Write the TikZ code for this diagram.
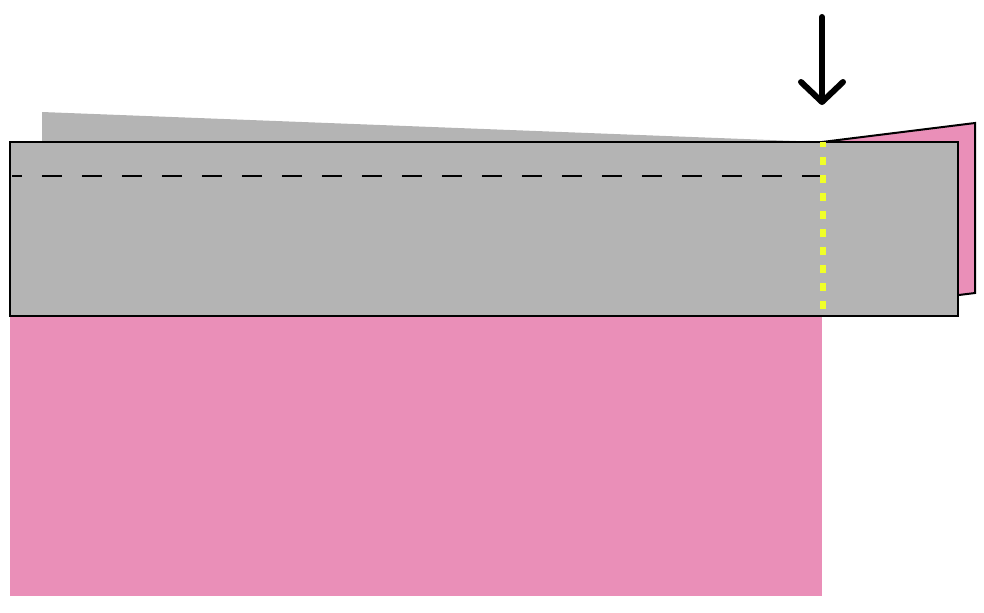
\documentclass[tikz,border=0pt]{standalone}
\usetikzlibrary{arrows.meta}
\definecolor{flapgray}{RGB}{180, 180, 180}
\definecolor{flappink}{RGB}{234, 143, 184}
\definecolor{foldyellow}{RGB}{240, 255, 40}

\begin{document}
\begin{tikzpicture}[
  x=0.5pt, y=-0.5pt,
  sheet/.style  = {fill=flapgray, draw=black, line width=1pt},
  fold/.style   = {draw=black, line width=1.1pt, dash pattern=on 10pt off 10pt, dash phase=5pt},
  crease/.style = {draw=foldyellow, line width=3pt, dash pattern=on 4pt off 5pt, dash phase=1.5pt},
  push/.style   = {-{Straight Barb[length=10pt, width=21pt, line cap=round, line join=round]}, line width=3pt, line cap=round}
]
\useasboundingbox (0,0) rectangle (984,612);
% back flap and lower sheet
\fill[flapgray] (42,112) -- (822,142) -- (42,142) -- cycle;
\fill[flappink] (10,300) rectangle (822,596);
% right pink flap
\filldraw[fill=flappink, draw=black, line width=1pt]
  (822,142) -- (975,123) -- (975,293) -- (822,312) -- cycle;
% front gray sheet
\path[sheet] (10,142) rectangle (958,316);
\coordinate (fold_l) at (12,176);
\coordinate (fold_r) at (822,176);
\draw[fold] (fold_l) -- (fold_r);
\coordinate (crease_t) at (823,142);
\coordinate (crease_b) at (823,312);
\draw[crease] (crease_t) -- (crease_b);
% push arrow
\coordinate (push_s) at (822,17);
\coordinate (push_e) at (822,105);
\draw[push] (push_s) -- (push_e);
\end{tikzpicture}
\end{document}
